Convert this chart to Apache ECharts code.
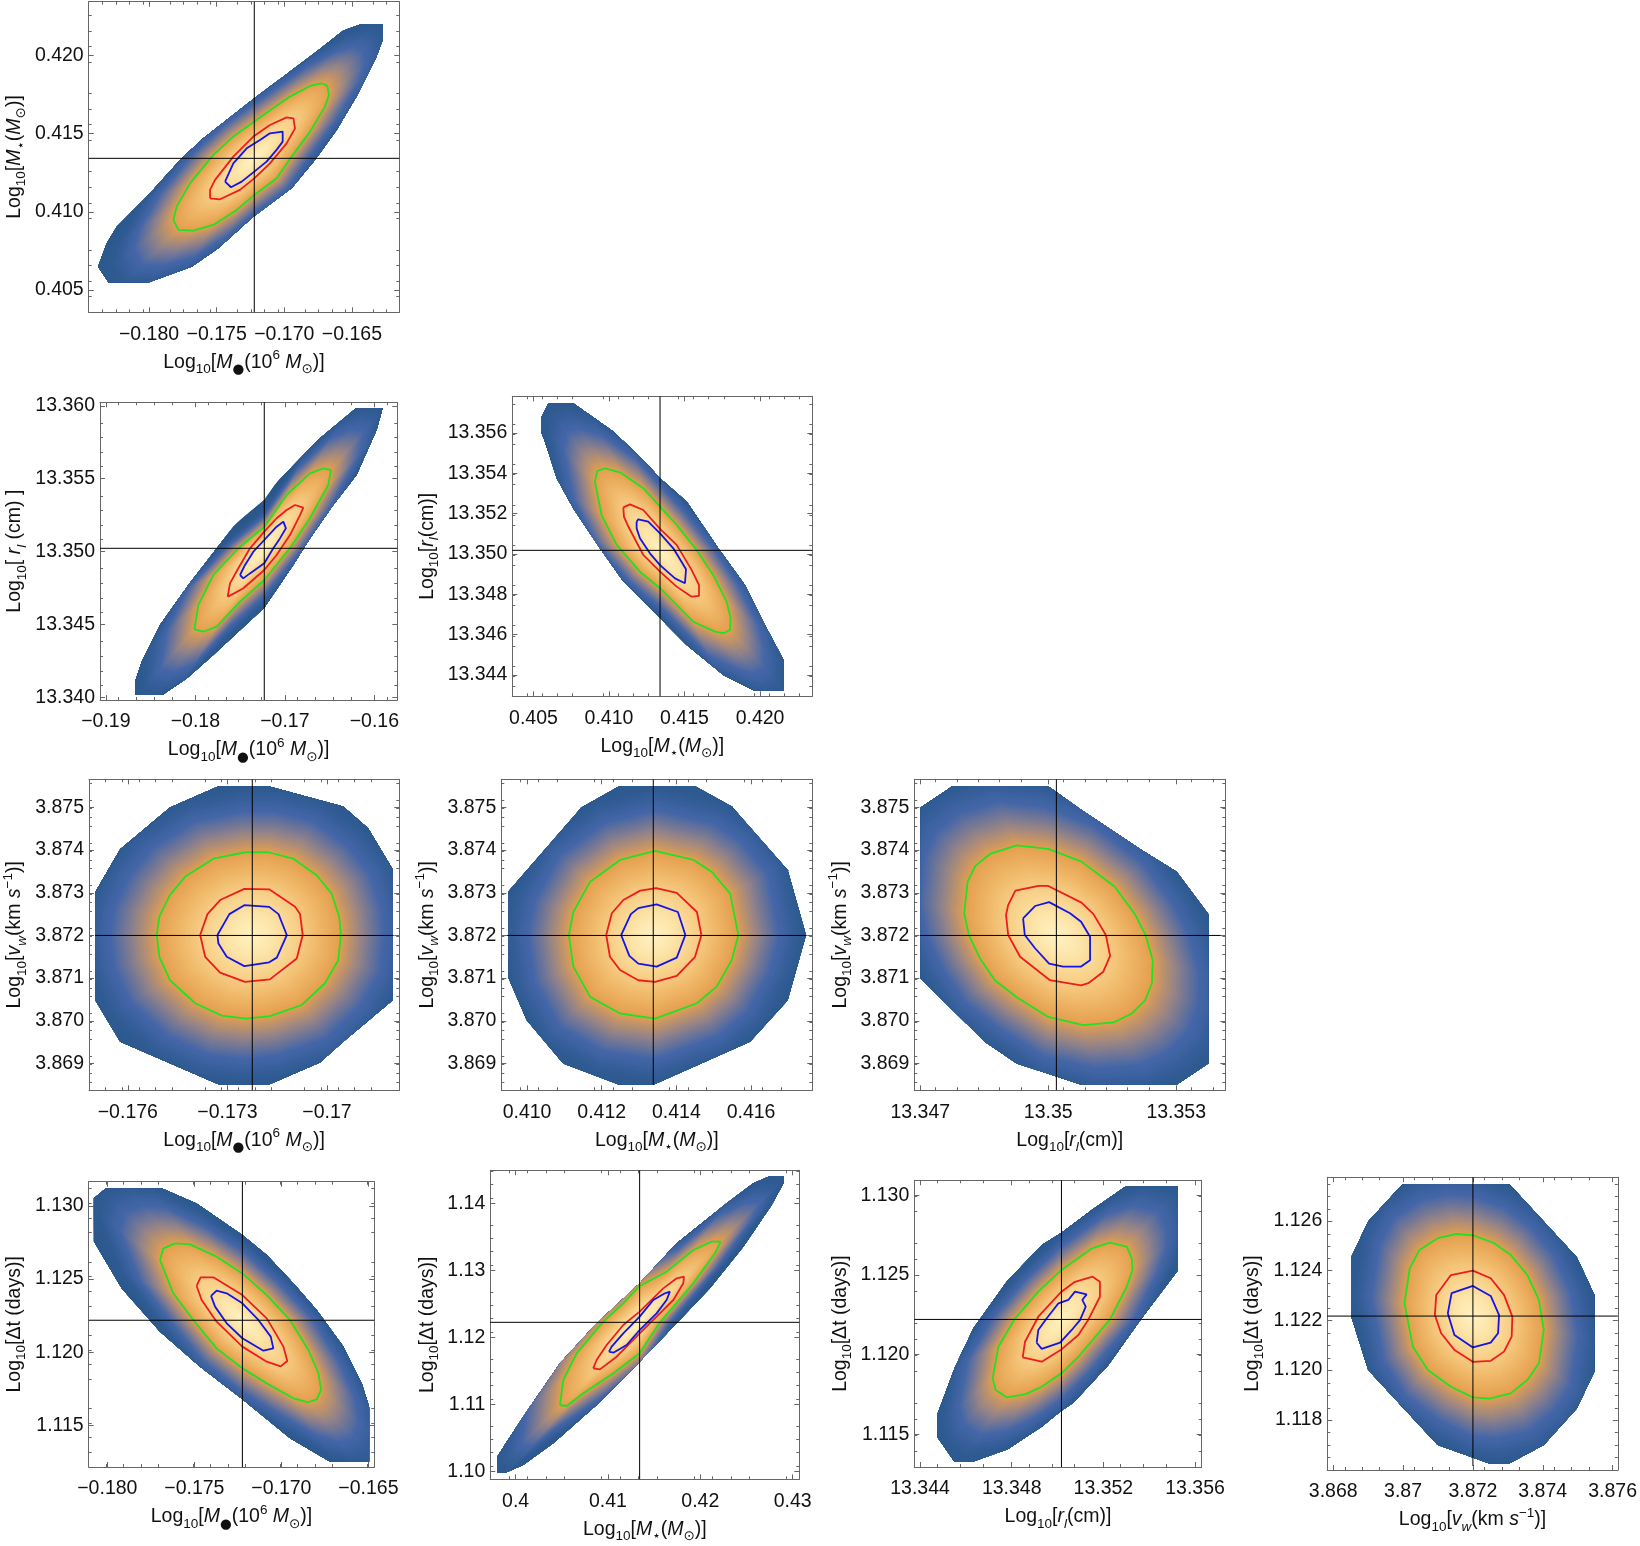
<!DOCTYPE html>
<html lang="en">
<head>
  <meta charset="UTF-8">
  <title>Corner plot</title>
  <script src="https://cdn.jsdelivr.net/npm/echarts@6/dist/echarts.min.js"></script>
  <style>
    html, body { margin: 0; padding: 0; background: #fff; }
  </style>
</head>
<body>
  <div id="main" style="width:1640px;height:1546px"></div>
  <script>
    // axis ranges of the ten panels
    var xRange = [[-0.18446,-0.1615],[-0.19065,-0.15744],[0.4036,0.42346],[-0.17717,-0.16782],[0.40931,0.41764],[13.34686,13.35415],[-0.18107,-0.16466],[0.39726,0.43072],[13.34375,13.35629],[3.86783,3.87615]];
    var yRange = [[0.40357,0.42344],[13.33983,13.36024],[13.34294,13.35782],[3.86837,3.87566],[3.86837,3.87566],[3.86837,3.87566],[1.11217,1.13165],[1.09881,1.14493],[1.11296,1.13093],[1.11598,1.12775]];

    // tick values and tick labels
    var xTicks = [[-0.18,-0.175,-0.17,-0.165],[-0.19,-0.18,-0.17,-0.16],[0.405,0.41,0.415,0.42],[-0.176,-0.173,-0.17],[0.41,0.412,0.414,0.416],[13.347,13.35,13.353],[-0.18,-0.175,-0.17,-0.165],[0.4,0.41,0.42,0.43],[13.344,13.348,13.352,13.356],[3.868,3.87,3.872,3.874,3.876]];
    var xTickLabels = [['−0.180','−0.175','−0.170','−0.165'],['−0.19','−0.18','−0.17','−0.16'],['0.405','0.410','0.415','0.420'],['−0.176','−0.173','−0.17'],['0.410','0.412','0.414','0.416'],['13.347','13.35','13.353'],['−0.180','−0.175','−0.170','−0.165'],['0.4','0.41','0.42','0.43'],['13.344','13.348','13.352','13.356'],['3.868','3.87','3.872','3.874','3.876']];
    var yTicks = [[0.405,0.41,0.415,0.42],[13.34,13.345,13.35,13.355,13.36],[13.344,13.346,13.348,13.35,13.352,13.354,13.356],[3.869,3.87,3.871,3.872,3.873,3.874,3.875],[3.869,3.87,3.871,3.872,3.873,3.874,3.875],[3.869,3.87,3.871,3.872,3.873,3.874,3.875],[1.115,1.12,1.125,1.13],[1.1,1.11,1.12,1.13,1.14],[1.115,1.12,1.125,1.13],[1.118,1.12,1.122,1.124,1.126]];
    var yTickLabels = [['0.405','0.410','0.415','0.420'],['13.340','13.345','13.350','13.355','13.360'],['13.344','13.346','13.348','13.350','13.352','13.354','13.356'],['3.869','3.870','3.871','3.872','3.873','3.874','3.875'],['3.869','3.870','3.871','3.872','3.873','3.874','3.875'],['3.869','3.870','3.871','3.872','3.873','3.874','3.875'],['1.115','1.120','1.125','1.130'],['1.10','1.11','1.12','1.13','1.14'],['1.115','1.120','1.125','1.130'],['1.118','1.120','1.122','1.124','1.126']];
    var xStep = [0.005,0.01,0.005,0.003,0.002,0.003,0.005,0.01,0.004,0.002];
    var yStep = [0.005,0.005,0.002,0.001,0.001,0.001,0.005,0.01,0.005,0.002];
    var xMinorSplit = [5,5,5,6,4,6,5,5,4,4];
    var yMinorSplit = [5,5,4,5,5,5,5,5,5,4];

    // best fit values (the black cross)
    var crossX = [-0.17222,-0.1723,0.41338,-0.17225,0.41338,13.35019,-0.17224,0.41343,13.35017,3.872];
    var crossY = [0.41342,13.35023,13.35018,3.872,3.872,3.872,1.12219,1.12224,1.12221,1.12217];
    var crossXSpan = {3:[-0.17699,-0.16799],4:[0.40945,0.41749],5:[13.34699,13.35404]};
    var crossYSpan = {4:[3.8685,3.87566],9:[1.11614,1.12775]};

    // panel 1: M_star vs M_bh
    var hull1 = [[-0.18377,0.40649],[-0.183,0.40549],[-0.18,0.40549],[-0.17685,0.40649],[-0.17488,0.40767],[-0.17229,0.40969],[-0.16946,0.4115],[-0.16773,0.41332],[-0.16613,0.41523],[-0.16466,0.41737],[-0.16318,0.41993],[-0.16273,0.42099],[-0.16273,0.42201],[-0.16429,0.42201],[-0.16564,0.42159],[-0.16761,0.42025],[-0.17007,0.41865],[-0.17222,0.41726],[-0.17599,0.4147],[-0.17759,0.41342],[-0.18017,0.41097],[-0.18239,0.40905],[-0.18313,0.40798]];
    var green1 = [[-0.1782,0.40948],[-0.17783,0.40884],[-0.17672,0.4088],[-0.17525,0.40916],[-0.17352,0.41012],[-0.17222,0.41108],[-0.17057,0.41214],[-0.16946,0.41353],[-0.1681,0.41513],[-0.167,0.41673],[-0.1667,0.41747],[-0.16682,0.41805],[-0.16724,0.41822],[-0.1681,0.41805],[-0.16958,0.41737],[-0.17155,0.41619],[-0.17377,0.41481],[-0.17525,0.41364],[-0.17697,0.41182],[-0.17796,0.41033]];
    var red1 = [[-0.17549,0.41086],[-0.17475,0.4108],[-0.17328,0.4114],[-0.17222,0.41214],[-0.17106,0.4131],[-0.16983,0.41438],[-0.16921,0.41534],[-0.16933,0.41598],[-0.16983,0.41604],[-0.17106,0.41555],[-0.17229,0.41481],[-0.17377,0.41353],[-0.17512,0.41204],[-0.17549,0.4114]];
    var blue1 = [[-0.17438,0.41193],[-0.17394,0.41157],[-0.17315,0.41193],[-0.17222,0.41257],[-0.17131,0.41321],[-0.17057,0.41396],[-0.17012,0.41449],[-0.17012,0.41513],[-0.17106,0.41502],[-0.1718,0.41459],[-0.17278,0.41406],[-0.17377,0.4131]];

    // panel 2: r_l vs M_bh
    var hull2 = [[-0.18674,13.34109],[-0.18674,13.34017],[-0.18368,13.34017],[-0.18097,13.34131],[-0.17799,13.34291],[-0.1723,13.34616],[-0.16906,13.34909],[-0.1672,13.35091],[-0.16459,13.3532],[-0.16199,13.35526],[-0.15975,13.35834],[-0.15908,13.35983],[-0.16206,13.35983],[-0.16608,13.35777],[-0.1723,13.35389],[-0.17576,13.35171],[-0.18078,13.34771],[-0.18395,13.34497],[-0.18599,13.34246]];
    var green2 = [[-0.18011,13.34467],[-0.17911,13.34451],[-0.17762,13.34486],[-0.17501,13.34657],[-0.1723,13.34806],[-0.16943,13.35023],[-0.1672,13.35229],[-0.16515,13.35457],[-0.16485,13.3556],[-0.16571,13.35571],[-0.1672,13.35537],[-0.1698,13.35389],[-0.1723,13.35171],[-0.1752,13.35023],[-0.17799,13.3484],[-0.17967,13.34634]];
    var red2 = [[-0.17639,13.34691],[-0.17546,13.34721],[-0.17464,13.34749],[-0.1723,13.34874],[-0.17092,13.34977],[-0.16943,13.35114],[-0.16831,13.35251],[-0.16794,13.35302],[-0.16887,13.3532],[-0.1698,13.35286],[-0.17092,13.35229],[-0.1723,13.35137],[-0.1739,13.35023],[-0.1752,13.34886],[-0.17613,13.34783]];
    var blue2 = [[-0.17501,13.3484],[-0.17464,13.34817],[-0.1739,13.34851],[-0.1723,13.3492],[-0.17129,13.35023],[-0.17055,13.35091],[-0.16988,13.3516],[-0.17017,13.35206],[-0.17092,13.35171],[-0.1723,13.3508],[-0.17352,13.35],[-0.17445,13.34909]];

    // panel 3: r_l vs M_star
    var hull3 = [[0.4055,13.35673],[0.40599,13.35747],[0.40764,13.35747],[0.41029,13.35607],[0.41227,13.35466],[0.41338,13.35375],[0.41514,13.3526],[0.41724,13.35028],[0.419,13.34846],[0.42021,13.34664],[0.42156,13.34474],[0.42156,13.34324],[0.41955,13.34324],[0.41757,13.344],[0.41514,13.34549],[0.41338,13.34681],[0.41095,13.34863],[0.4094,13.35028],[0.40764,13.35226],[0.40654,13.35375],[0.40576,13.35557],[0.4055,13.35607]];
    var green3 = [[0.40907,13.35359],[0.40923,13.35412],[0.40974,13.35425],[0.41073,13.35405],[0.41227,13.35326],[0.41338,13.35235],[0.41448,13.35144],[0.4158,13.3502],[0.4169,13.34896],[0.41779,13.34764],[0.41805,13.34681],[0.41801,13.34623],[0.41757,13.34607],[0.41702,13.34615],[0.41558,13.34664],[0.41338,13.3483],[0.41205,13.34912],[0.41051,13.35045],[0.40951,13.35193]];
    var red3 = [[0.41095,13.35231],[0.41139,13.35246],[0.41227,13.35218],[0.41338,13.35124],[0.41448,13.35045],[0.41547,13.34921],[0.41596,13.34846],[0.41596,13.34792],[0.41547,13.34788],[0.41448,13.34838],[0.41338,13.34912],[0.41227,13.34995],[0.41128,13.35136],[0.41099,13.35185]];
    var blue3 = [[0.41183,13.3516],[0.41194,13.35172],[0.4126,13.3516],[0.41338,13.35102],[0.41426,13.35028],[0.4151,13.34924],[0.41503,13.34855],[0.41437,13.34879],[0.41338,13.34945],[0.41271,13.35003],[0.41205,13.35078],[0.41183,13.35127]];

    // panel 4: v_w vs M_bh
    var hull4 = [[-0.17698,3.87302],[-0.17623,3.87402],[-0.17473,3.875],[-0.17327,3.8755],[-0.17176,3.8755],[-0.16951,3.87502],[-0.16876,3.87451],[-0.16802,3.87355],[-0.16802,3.87048],[-0.16951,3.86951],[-0.17021,3.86902],[-0.17176,3.8685],[-0.17324,3.8685],[-0.17623,3.86951],[-0.17698,3.87048]];
    var green4 = [[-0.17513,3.87201],[-0.17505,3.87244],[-0.17473,3.87295],[-0.17427,3.87338],[-0.17342,3.8738],[-0.17247,3.87395],[-0.17177,3.87395],[-0.17101,3.8738],[-0.17031,3.87341],[-0.16986,3.87298],[-0.16963,3.87244],[-0.16958,3.87201],[-0.16966,3.87142],[-0.17006,3.87088],[-0.17076,3.87037],[-0.17172,3.87011],[-0.17244,3.87005],[-0.17317,3.87012],[-0.17397,3.87041],[-0.17473,3.87095],[-0.17505,3.8715]];
    var red4 = [[-0.17382,3.87201],[-0.1736,3.8725],[-0.17322,3.87283],[-0.17249,3.87309],[-0.17174,3.87308],[-0.17096,3.87267],[-0.17081,3.8725],[-0.17073,3.87201],[-0.17091,3.87146],[-0.17172,3.87097],[-0.17247,3.87091],[-0.17322,3.87113],[-0.17367,3.8715]];
    var blue4 = [[-0.1733,3.87201],[-0.17294,3.8725],[-0.17249,3.87271],[-0.17174,3.87267],[-0.17146,3.8725],[-0.17121,3.87201],[-0.17151,3.87148],[-0.17174,3.87137],[-0.17249,3.87128],[-0.17302,3.8715],[-0.17327,3.87181]];

    // panel 5: v_w vs M_star
    var hull5 = [[0.40949,3.87302],[0.41146,3.875],[0.41247,3.8755],[0.4145,3.8755],[0.41548,3.87502],[0.41698,3.87353],[0.41747,3.87201],[0.41698,3.87048],[0.41597,3.86951],[0.41338,3.8685],[0.41247,3.8685],[0.41097,3.869],[0.40999,3.87002],[0.40949,3.87103]];
    var green5 = [[0.41112,3.87201],[0.41124,3.87255],[0.41169,3.87326],[0.41249,3.87377],[0.41343,3.87398],[0.41446,3.87377],[0.41495,3.87349],[0.41544,3.87298],[0.41566,3.87201],[0.41548,3.87142],[0.41508,3.8708],[0.41455,3.87041],[0.41343,3.87005],[0.41249,3.87017],[0.41169,3.87056],[0.41124,3.87127]];
    var red5 = [[0.41212,3.87201],[0.41227,3.87252],[0.41258,3.87283],[0.41303,3.87305],[0.41346,3.87311],[0.41401,3.873],[0.41455,3.87255],[0.41467,3.87201],[0.4145,3.8715],[0.41401,3.87105],[0.41343,3.87091],[0.41298,3.87095],[0.41249,3.87119],[0.41222,3.8715]];
    var blue5 = [[0.41252,3.87201],[0.41278,3.8725],[0.41298,3.87264],[0.41347,3.87273],[0.41404,3.87255],[0.41424,3.87201],[0.41401,3.87148],[0.41347,3.87127],[0.41298,3.87134],[0.41274,3.87152]];

    // panel 6: v_w vs r_l
    var hull6 = [[13.34701,3.875],[13.34775,3.8755],[13.35,3.8755],[13.35078,3.87494],[13.35219,3.874],[13.35301,3.87349],[13.35375,3.8725],[13.35375,3.869],[13.35301,3.8685],[13.35078,3.8685],[13.34926,3.869],[13.34851,3.86951],[13.34701,3.87099]];
    var green6 = [[13.34803,3.87252],[13.34811,3.87326],[13.34829,3.87363],[13.34865,3.87392],[13.34926,3.87411],[13.35,3.87403],[13.35078,3.87373],[13.35156,3.87314],[13.35203,3.8725],[13.35228,3.87201],[13.35245,3.87142],[13.35243,3.87088],[13.35227,3.87048],[13.35196,3.87017],[13.35153,3.86996],[13.35082,3.8699],[13.35,3.87009],[13.34926,3.87055],[13.34875,3.87095],[13.3484,3.87146],[13.34814,3.87201]];
    var red6 = [[13.34901,3.87248],[13.34906,3.87271],[13.34923,3.87305],[13.34977,3.87316],[13.35,3.87316],[13.35078,3.87277],[13.35106,3.8725],[13.35135,3.87201],[13.35145,3.87152],[13.35129,3.87115],[13.35094,3.87088],[13.35077,3.87083],[13.35004,3.87095],[13.34934,3.8715],[13.34906,3.87201]];
    var blue6 = [[13.34941,3.8724],[13.34969,3.87269],[13.35002,3.87278],[13.35051,3.87252],[13.35077,3.87232],[13.35098,3.87197],[13.35098,3.87142],[13.35077,3.87127],[13.35035,3.87127],[13.35002,3.87134],[13.34969,3.8717],[13.34945,3.87201]];

    // panel 7: dt vs M_bh
    var hull7 = [[-0.18077,1.13052],[-0.18008,1.1312],[-0.17688,1.1312],[-0.17487,1.13017],[-0.17224,1.12801],[-0.17084,1.12665],[-0.16931,1.12471],[-0.16797,1.12289],[-0.16644,1.12039],[-0.16538,1.11788],[-0.16496,1.11629],[-0.16496,1.11253],[-0.1672,1.11253],[-0.1695,1.11413],[-0.17224,1.11679],[-0.17467,1.11902],[-0.17697,1.12141],[-0.17918,1.12437],[-0.18077,1.12756]];
    var green7 = [[-0.17697,1.1263],[-0.17678,1.1271],[-0.17611,1.12744],[-0.17525,1.12737],[-0.17372,1.12653],[-0.17224,1.12539],[-0.17084,1.12391],[-0.1695,1.12221],[-0.16845,1.12016],[-0.16787,1.11857],[-0.16772,1.11743],[-0.16797,1.11679],[-0.16845,1.11659],[-0.16931,1.11686],[-0.17084,1.11788],[-0.17224,1.11891],[-0.17372,1.12027],[-0.17506,1.12221],[-0.17621,1.12403]];
    var red7 = [[-0.17487,1.12453],[-0.17464,1.12512],[-0.17391,1.12512],[-0.17224,1.12391],[-0.17084,1.12232],[-0.16988,1.12039],[-0.16966,1.11941],[-0.17004,1.11904],[-0.17084,1.11936],[-0.17224,1.12039],[-0.17372,1.12209],[-0.17458,1.12357]];
    var blue7 = [[-0.17404,1.12385],[-0.17372,1.12421],[-0.17314,1.12403],[-0.17224,1.12335],[-0.17132,1.12221],[-0.17061,1.12107],[-0.17046,1.12027],[-0.17103,1.12011],[-0.17224,1.12096],[-0.17314,1.12198],[-0.17381,1.12312]];

    // panel 8: dt vs M_star
    var hull8 = [[0.39801,1.10219],[0.39801,1.09985],[0.39903,1.09985],[0.40083,1.10095],[0.40408,1.10418],[0.40877,1.1099],[0.41343,1.11637],[0.41744,1.12209],[0.42105,1.12731],[0.42466,1.13353],[0.42773,1.13975],[0.42903,1.14308],[0.42903,1.14408],[0.42755,1.14408],[0.42574,1.14299],[0.42285,1.14],[0.41744,1.13403],[0.41343,1.12806],[0.40877,1.12209],[0.4048,1.11612],[0.40155,1.10965],[0.39939,1.10517]];
    var green8 = [[0.4048,1.1099],[0.40552,1.10975],[0.40733,1.11164],[0.41058,1.11463],[0.41343,1.11761],[0.41563,1.12224],[0.41924,1.12806],[0.42159,1.13254],[0.4222,1.13428],[0.42123,1.13428],[0.41924,1.13303],[0.41635,1.1298],[0.41343,1.12766],[0.41166,1.12507],[0.40942,1.12224],[0.40661,1.11761],[0.40516,1.11363]];
    var red8 = [[0.40841,1.11537],[0.40913,1.11522],[0.41094,1.11711],[0.41343,1.1206],[0.41527,1.12308],[0.41708,1.12557],[0.41816,1.12806],[0.41823,1.12905],[0.41744,1.12881],[0.41599,1.12731],[0.41343,1.12383],[0.41166,1.12184],[0.40986,1.11886],[0.40877,1.11662]];
    var blue8 = [[0.41011,1.11786],[0.41058,1.11771],[0.41202,1.11886],[0.41343,1.12109],[0.41527,1.12358],[0.41635,1.12557],[0.41671,1.12682],[0.41617,1.12657],[0.41491,1.12557],[0.41343,1.12308],[0.41166,1.1206],[0.4104,1.11861]];

    // panel 9: dt vs r_l
    var hull9 = [[13.34476,1.11628],[13.34476,1.11482],[13.3455,1.11329],[13.3463,1.11329],[13.34783,1.11407],[13.34931,1.11549],[13.35017,1.11649],[13.35069,1.11699],[13.35222,1.11935],[13.35367,1.12228],[13.35524,1.12526],[13.35524,1.13053],[13.35295,1.13053],[13.35149,1.12907],[13.35017,1.12765],[13.34931,1.12687],[13.34778,1.12457],[13.34633,1.12165],[13.34553,1.11925]];
    var green9 = [[13.34717,1.11852],[13.3473,1.11779],[13.34778,1.11733],[13.34858,1.11751],[13.34931,1.11799],[13.35017,1.11883],[13.35091,1.11987],[13.35229,1.12221],[13.35302,1.12426],[13.35327,1.12531],[13.35324,1.12604],[13.35302,1.12677],[13.35229,1.12702],[13.35149,1.12666],[13.35017,1.12531],[13.34916,1.12395],[13.34815,1.12228],[13.34742,1.1205]];
    var red9 = [[13.34848,1.11983],[13.34931,1.11956],[13.35017,1.12033],[13.35091,1.12123],[13.35135,1.12221],[13.35185,1.12363],[13.35185,1.12457],[13.35153,1.12489],[13.35076,1.12457],[13.35017,1.12395],[13.34916,1.12238],[13.34858,1.12081]];
    var blue9 = [[13.34909,1.12075],[13.34931,1.12036],[13.35011,1.12075],[13.35062,1.12155],[13.35098,1.12217],[13.35123,1.12301],[13.35108,1.12343],[13.35127,1.12378],[13.35076,1.12395],[13.35047,1.12343],[13.35004,1.12322],[13.34953,1.12228],[13.34916,1.12155]];

    // panel 10: dt vs v_w
    var hull10 = [[3.86851,1.12453],[3.869,1.12597],[3.86999,1.12748],[3.87304,1.12748],[3.87403,1.12597],[3.87498,1.12453],[3.87548,1.12302],[3.87548,1.11994],[3.87498,1.11846],[3.87403,1.11699],[3.87304,1.11624],[3.87247,1.11624],[3.87099,1.11699],[3.869,1.12],[3.86851,1.12217]];
    var green10 = [[3.87004,1.12268],[3.87019,1.12409],[3.87047,1.12483],[3.87099,1.1253],[3.87152,1.12547],[3.872,1.12542],[3.87261,1.1251],[3.87308,1.12463],[3.87356,1.12382],[3.87389,1.12282],[3.87403,1.12161],[3.87389,1.12027],[3.87356,1.1196],[3.87308,1.11906],[3.87247,1.11885],[3.872,1.1189],[3.87137,1.11933],[3.87071,1.12],[3.87028,1.12094]];
    var red10 = [[3.87091,1.12221],[3.87095,1.12302],[3.87137,1.12382],[3.872,1.124],[3.87251,1.12369],[3.87289,1.12302],[3.87313,1.12215],[3.87311,1.12134],[3.87289,1.12074],[3.87251,1.12037],[3.872,1.12033],[3.87147,1.12081],[3.87109,1.12148]];
    var blue10 = [[3.87128,1.12228],[3.87139,1.12309],[3.872,1.12338],[3.87251,1.12298],[3.87275,1.12221],[3.87272,1.12148],[3.87251,1.1211],[3.872,1.12091],[3.87147,1.12141]];

    var hulls = [hull1,hull2,hull3,hull4,hull5,hull6,hull7,hull8,hull9,hull10];
    var greens = [green1,green2,green3,green4,green5,green6,green7,green8,green9,green10];
    var reds = [red1,red2,red3,red4,red5,red6,red7,red8,red9,red10];
    var blues = [blue1,blue2,blue3,blue4,blue5,blue6,blue7,blue8,blue9,blue10];

    // axis titles
    var LOG = '{t|Log}{s|10}{t|[}';
    var tMbh = LOG + '{i|M}{sb|●}{t|(10}{u|6}{t| }{i|M}{sb|⊙}{t|)]}';
    var tMs = LOG + '{i|M}{sb|⋆}{t|(}{i|M}{sb|⊙}{t|)]}';
    var tRl = LOG + '{i|r}{si|l}{t|(cm)]}';
    var tRl2 = LOG + '{t| }{i|r}{si|l}{t| (cm) ]}';
    var tVw = LOG + '{i|v}{si|w}{t|(km }{i|s}{u|−1}{t|)]}';
    var tDt = LOG + '{t|Δt (days)]}';
    var xTitles = [tMbh,tMbh,tMs,tMbh,tMs,tRl,tMbh,tMs,tRl,tVw];
    var yTitles = [tMs,tRl2,tRl,tVw,tVw,tVw,tDt,tDt,tDt,tDt];

    // frame of each panel on the page: left, top, right, bottom
    var frames = [
      [88.7,1.7,399.3,312.3],[100,402.3,397.3,700],[512.3,396.3,812.3,696.3],
      [88.7,779.3,399.3,1090.3],[501.3,779.3,812.3,1090.3],[914.3,779.3,1225.3,1090.3],
      [88.7,1181.7,374.3,1467],[490.3,1170.3,799.3,1479.3],[914.3,1180.3,1201.7,1467],[1327.3,1177.3,1619.3,1470]
    ];
    var yNameGap = [60,71,71,60,60,60,60,49,60,61];

    // colours of the density, from the peak out to the edge of the region
    var shadeStops = ['#fff3c4','#fde5aa','#f8d18a','#f0b96a','#e5a050','#948388','#4466a8','#2f5b92','#2b588c','#2a578a'];
    var SHADE_MAX = 2.25, SHADE_STEP = 0.025;

    function tickText(ticks, labels) {
      return function (v) {
        for (var i = 0; i < ticks.length; i++) {
          if (Math.abs(ticks[i] - v) < 1e-6) return labels[i];
        }
        return '';
      };
    }

    var FONT = '"Liberation Sans","DejaVu Sans",sans-serif';
    var titleRich = {
      t: { fontSize: 19.5, lineHeight: 28, fontFamily: FONT, color: '#111' },
      i: { fontSize: 19.5, lineHeight: 28, fontStyle: 'italic', fontFamily: FONT, color: '#111' },
      s: { fontSize: 13.5, lineHeight: 14, verticalAlign: 'bottom', fontFamily: FONT, color: '#111' },
      si: { fontSize: 13.5, lineHeight: 14, verticalAlign: 'bottom', fontStyle: 'italic', fontFamily: FONT, color: '#111' },
      sb: { fontSize: 13.5, lineHeight: 14, verticalAlign: 'bottom', fontFamily: '"DejaVu Sans",sans-serif', color: '#111' },
      u: { fontSize: 13.5, lineHeight: 14, verticalAlign: 'top', fontFamily: FONT, color: '#111' }
    };

    var lineColor = '#666666';

    function makeAxis(dim, i, secondary) {
      var isX = dim === 'x';
      var range = isX ? xRange[i] : yRange[i];
      var ticks = isX ? xTicks[i] : yTicks[i];
      var labels = isX ? xTickLabels[i] : yTickLabels[i];
      var axis = {
        type: 'value',
        gridIndex: i,
        position: isX ? (secondary ? 'top' : 'bottom') : (secondary ? 'right' : 'left'),
        min: range[0],
        max: range[1],
        interval: isX ? xStep[i] : yStep[i],
        splitLine: { show: false },
        axisLine: { show: true, onZero: false, lineStyle: { color: lineColor, width: 1 } },
        axisTick: { show: true, inside: true, length: 5, customValues: ticks, lineStyle: { color: lineColor, width: 1 } },
        minorTick: { show: true, splitNumber: isX ? xMinorSplit[i] : yMinorSplit[i], length: 3, lineStyle: { color: lineColor, width: 1 } },
        axisLabel: { show: false }
      };
      if (!secondary) {
        axis.axisLabel = {
          show: true,
          customValues: ticks,
          formatter: tickText(ticks, labels),
          margin: isX ? 12 : 5,
          fontSize: 19.5,
          fontFamily: FONT,
          color: '#111',
          hideOverlap: false
        };
        axis.name = isX ? xTitles[i] : yTitles[i];
        axis.nameLocation = 'middle';
        axis.nameGap = isX ? 36 : yNameGap[i];
        axis.nameTextStyle = { rich: titleRich, fontFamily: FONT };
      }
      return axis;
    }

    function shadeItem(i) {
      return function (params, api) {
        var c = api.coord([crossX[i], crossY[i]]);
        var pts = greens[i].map(function (d) { return api.coord(d); });
        var outline = hulls[i].map(function (d) { return api.coord(d); });
        var kids = [];
        for (var r = SHADE_MAX; r > 0; r -= SHADE_STEP) {
          kids.push({
            type: 'polygon',
            shape: {
              points: pts.map(function (p) {
                return [c[0] + (p[0] - c[0]) * r, c[1] + (p[1] - c[1]) * r];
              })
            },
            style: { fill: echarts.color.lerp(r / SHADE_MAX, shadeStops), stroke: null }
          });
        }
        return { type: 'group', clipPath: { type: 'polygon', shape: { points: outline } }, children: kids };
      };
    }

    function contour(i, points, color) {
      return {
        type: 'line', xAxisIndex: 2 * i, yAxisIndex: 2 * i, silent: true,
        data: points.concat([points[0]]),
        symbol: 'none', lineStyle: { color: color, width: 1.8 }, z: 3
      };
    }

    function crossLine(i, points) {
      return {
        type: 'line', xAxisIndex: 2 * i, yAxisIndex: 2 * i, silent: true,
        data: points, symbol: 'none', lineStyle: { color: '#000', width: 1 }, z: 4
      };
    }

    var grids = [], xAxes = [], yAxes = [], series = [];
    for (var i = 0; i < 10; i++) {
      var f = frames[i];
      grids.push({ left: f[0], top: f[1], width: f[2] - f[0], height: f[3] - f[1], containLabel: false });
      xAxes.push(makeAxis('x', i, false), makeAxis('x', i, true));
      yAxes.push(makeAxis('y', i, false), makeAxis('y', i, true));
      series.push({
        type: 'custom', coordinateSystem: 'cartesian2d', xAxisIndex: 2 * i, yAxisIndex: 2 * i,
        silent: true, clip: true, z: 2, data: [[crossX[i], crossY[i]]], renderItem: shadeItem(i)
      });
      series.push(contour(i, greens[i], '#22e022'));
      series.push(contour(i, reds[i], '#ee1c1c'));
      series.push(contour(i, blues[i], '#1414e6'));
      var hs = crossXSpan[i] || xRange[i], vs = crossYSpan[i] || yRange[i];
      series.push(crossLine(i, [[hs[0], crossY[i]], [hs[1], crossY[i]]]));
      series.push(crossLine(i, [[crossX[i], vs[0]], [crossX[i], vs[1]]]));
    }

    var myChart = echarts.init(document.getElementById('main'), null, { renderer: 'canvas' });
    myChart.setOption({
      animation: false,
      backgroundColor: '#fff',
      tooltip: { show: false },
      grid: grids,
      xAxis: xAxes,
      yAxis: yAxes,
      series: series
    });
  </script>
</body>
</html>
